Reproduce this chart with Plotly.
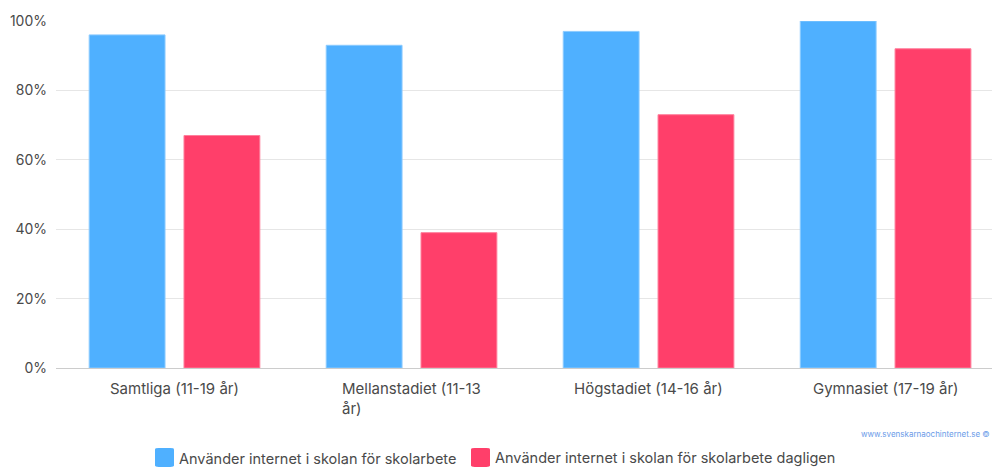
import plotly.graph_objects as go

# Survey data: share of pupils using the internet in school
categories = ["Samtliga (11-19 år)", "Mellanstadiet (11-13<br>år)",
              "Högstadiet (14-16 år)", "Gymnasiet (17-19 år)"]
series_names = ["Använder internet i skolan för skolarbete",
                "Använder internet i skolan för skolarbete dagligen"]
uses_internet = [96, 93, 97, 100]
uses_daily = [67, 39, 73, 92]
y_ticks = [0, 20, 40, 60, 80, 100]
y_tick_labels = ["0%", "20%", "40%", "60%", "80%", "100%"]

BLUE = "#4FB0FF"
RED = "#FF3F6A"
FONT = "Inter, Roboto, sans-serif"
TEXT = "#4a4a4a"

x_pos = list(range(len(categories)))

fig = go.Figure()
fig.add_trace(go.Bar(x=x_pos, y=uses_internet, name=series_names[0],
                     marker=dict(color=BLUE, line=dict(color="#8ccbff", width=1)),
                     showlegend=False))
fig.add_trace(go.Bar(x=x_pos, y=uses_daily, name=series_names[1],
                     marker=dict(color=RED, line=dict(color="#ff7f9c", width=1)),
                     showlegend=False))

# Category labels as annotations so wrapped lines stay left-aligned
for xi, label in zip(x_pos, categories):
    fig.add_annotation(x=xi, y=0, xref="x", yref="paper", yshift=-9,
                       text=label, showarrow=False, align="left",
                       xanchor="center", yanchor="top",
                       font=dict(family=FONT, size=15, color=TEXT))

# Legend drawn as rounded swatches with labels
def rounded_rect(x0, y0, x1, y1, r):
    return (f"M{x0+r},{y0} L{x1-r},{y0} Q{x1},{y0} {x1},{y0+r} "
            f"L{x1},{y1-r} Q{x1},{y1} {x1-r},{y1} L{x0+r},{y1} "
            f"Q{x0},{y1} {x0},{y1-r} L{x0},{y0+r} Q{x0},{y0} {x0+r},{y0} Z")

W, H = 992, 467
ML, MR, MT, MB = 56, 0, 21, 99
pw, ph = W - ML - MR, H - MT - MB

def px_to_paper_x(px):
    return (px - ML) / pw

def py_to_paper_y(py):
    return (H - MB - py) / ph

legend_items = [(155, series_names[0], BLUE), (471, series_names[1], RED)]
for left, name, color in legend_items:
    x0, x1 = px_to_paper_x(left), px_to_paper_x(left + 19)
    y0, y1 = py_to_paper_y(467), py_to_paper_y(448)
    fig.add_shape(type="path", xref="paper", yref="paper",
                  path=rounded_rect(x0, y0, x1, y1, 0.004),
                  fillcolor=color, line=dict(width=0))
    fig.add_annotation(x=px_to_paper_x(left + 22), y=py_to_paper_y(458),
                       xref="paper", yref="paper", text=name, showarrow=False,
                       xanchor="left", yanchor="middle",
                       font=dict(family=FONT, size=14.5, color=TEXT))

fig.add_annotation(x=1, y=py_to_paper_y(434), xref="paper", yref="paper",
                   text="www.svenskarnaochinternet.se ©", showarrow=False,
                   xanchor="right", yanchor="middle",
                   font=dict(family=FONT, size=8, color="#6a9be8"))

fig.update_layout(
    width=W, height=H,
    margin=dict(l=ML, r=MR, t=MT, b=MB),
    paper_bgcolor="white", plot_bgcolor="white",
    barmode="group", bargap=0.2, bargroupgap=0.2,
    font=dict(family=FONT, color=TEXT),
    xaxis=dict(range=[-0.5, 3.449], showticklabels=False, showgrid=False,
               zeroline=False, fixedrange=True),
    yaxis=dict(range=[0, 100], tickvals=y_ticks, ticktext=y_tick_labels,
               showgrid=True, gridcolor="#e6e6e6", gridwidth=1,
               zeroline=True, zerolinecolor="#cccccc", zerolinewidth=1,
               tickfont=dict(family=FONT, size=14, color=TEXT),
               ticks="", ticklabelstandoff=8, fixedrange=True),
)

fig.write_html("out.html")
